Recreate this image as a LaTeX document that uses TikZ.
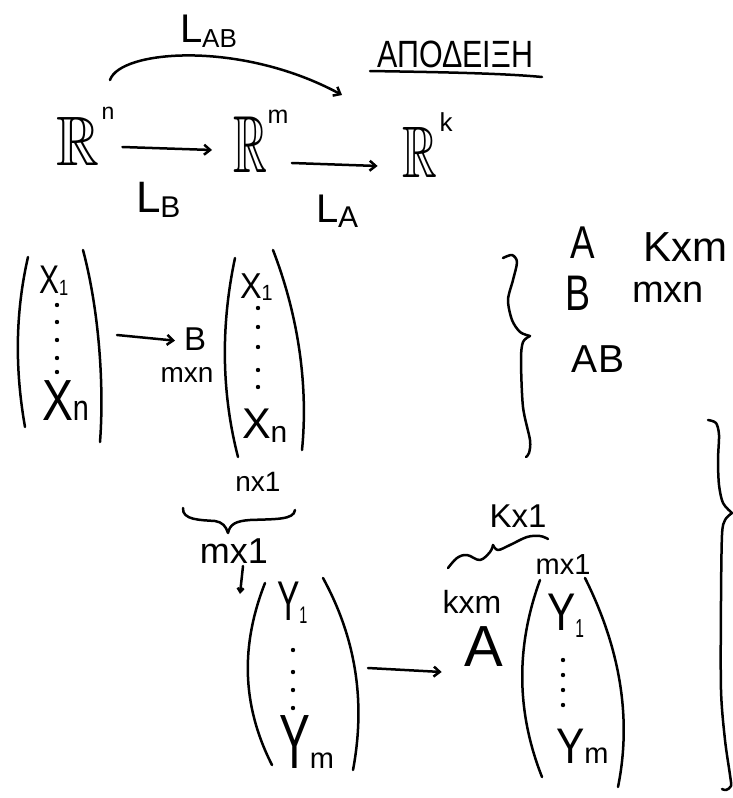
\documentclass[tikz,border=0pt]{standalone}
\usepackage{fontspec}
\usepackage{amssymb}
\setmainfont{Liberation Sans}
\usetikzlibrary{arrows.meta}
\newcommand\fsz[2]{{\fontsize{#1}{#1}\selectfont #2}}
\begin{document}
\begin{tikzpicture}[x=1pt,y=-1pt, line width=2.5pt, line cap=round, line join=round,
  every node/.style={inner sep=0pt, outer sep=0pt},
  arr/.style={-{Straight Barb[length=6pt,width=10pt]}},
  sarr/.style={-{Straight Barb[length=4pt,width=6pt]}}]
\fill[white] (0,0) rectangle (732,798);
\useasboundingbox (0,0) rectangle (732,798);

% ---------- top diagram ----------
\node[anchor=base west] (lab) at (180,42) {\fsz{40}{L}\raisebox{-5pt}{\fsz{26}{AB}}};
\node[anchor=base west] (title) at (377,67) {\scalebox{0.8}[1]{\fsz{38}{ΑΠΟΔΕΙΞΗ}}};
\coordinate (ulL) at (370,71);
\coordinate (ulR) at (542,77);
\draw (ulL) .. controls (430,72) and (500,73) .. (ulR);

\node (Rn) at (78,141) {\scalebox{0.85}[1]{\fsz{70}{$\mathbb{R}$}}};
\node (sn) at (108,113) {\fsz{23}{n}};
\node (Rm) at (250,145) {\scalebox{0.58}[1]{\fsz{81}{$\mathbb{R}$}}};
\node (sm) at (278,117) {\fsz{25}{m}};
\node (Rk) at (420,152) {\scalebox{0.66}[1]{\fsz{73}{$\mathbb{R}$}}};
\node (sk) at (446,122) {\fsz{26}{k}};

\draw[arr] ([xshift=23pt,yshift=-6pt]Rn.east) -- ([xshift=-21pt,yshift=-5pt]Rm.west);
\draw[arr] ([xshift=25pt,yshift=-18pt]Rm.east) -- ([xshift=-25pt,yshift=-14pt]Rk.west);

\node[anchor=base west] (lb) at (136,212) {\fsz{44}{L}\raisebox{-5pt}{\fsz{30}{B}}};
\node[anchor=base west] (la) at (316,222) {\fsz{40}{L}\raisebox{-5pt}{\fsz{30}{A}}};

\coordinate (abS) at (110,80);
\coordinate (abE) at (342,95);
\draw[arr] (abS) .. controls (120,50) and (240,40) .. (abE);

% ---------- vector 1 ----------
\draw (28,257) .. controls (15,314) and (15,370) .. (25,427);
\draw (83,250) .. controls (100,314) and (104,390) .. (100,442);
\node[anchor=base west] (x1a) at (39,293) {\scalebox{0.75}[1]{\fsz{40}{X}\raisebox{-2pt}{\fsz{22}{1}}}};
\foreach \y in {305,322,340,358,372} \fill (57,\y) circle (2.2pt);
\node[anchor=base west] (xna) at (42,420) {\scalebox{0.8}[1]{\fsz{58}{X}\fsz{36}{n}}};

\node[anchor=base west] (Bm) at (184,350) {\fsz{33}{B}};
\node (mxnB) at (187,375) {\fsz{28}{mxn}};
\coordinate (v1r) at (117,335);
\draw[arr] (v1r) -- ([xshift=-9pt,yshift=-2pt]Bm.west);

% ---------- vector 2 ----------
\draw (235,258) .. controls (221,324) and (221,391) .. (238,457);
\draw (273,250) .. controls (300,320) and (308,390) .. (302,450);
\node[anchor=base west] (x1b) at (240,298) {\scalebox{0.9}[1]{\fsz{36}{X}\raisebox{-2pt}{\fsz{22}{1}}}};
\foreach \y in {308,327,347,370,387} \fill (258,\y) circle (2.2pt);
\node[anchor=base west] (xnb) at (242,438) {\fsz{43}{X}\raisebox{-4pt}{\fsz{30}{n}}};
\node (nx1) at (258,482) {\fsz{28}{nx1}};

\draw (183,508) .. controls (182,520) and (200,520) .. (215,521)
  .. controls (222,522) and (226,526) .. (228,533)
  .. controls (230,524) and (236,521) .. (250,520)
  .. controls (275,519) and (294,520) .. (295,510);
\node (mx1a) at (234,551) {\fsz{36}{mx1}};
\coordinate (smS) at (243,566);
\coordinate (smE) at (240,594);
\draw[sarr] (smS) -- (smE);

% ---------- vector 3 ----------
\draw (265,583) .. controls (241,644) and (241,704) .. (272,765);
\draw (323,578) .. controls (358,642) and (365,706) .. (353,770);
\node[anchor=base west] (y1c) at (277,620) {\scalebox{0.6}[1]{\fsz{56}{Y}}\raisebox{-3pt}{\scalebox{0.6}[1]{\fsz{24}{1}}}};
\foreach \y in {650,672,690,708} \fill (293,\y) circle (2.2pt);
\node[anchor=base west] (ymc) at (279,768) {\scalebox{0.6}[1]{\fsz{77}{Y}}\fsz{29}{m}};

\node (kxmA) at (472,602) {\fsz{32}{kxm}};
\node (Abig) at (484,647) {\fsz{58}{A}};
\coordinate (v3r) at (368,668);
\draw[arr] (v3r) -- ([xshift=-23pt,yshift=-25pt]Abig.west);

\draw plot[smooth, tension=0.6] coordinates {(448,568) (457,558) (467,555) (480,560) (490,552) (493,545)};
\draw plot[smooth, tension=0.6] coordinates {(493,545) (498,550) (510,545) (527,537) (540,536) (548,539)};
\node (kx1) at (518,516) {\fsz{33}{Kx1}};
\node (mx1b) at (563,565) {\fsz{29}{mx1}};

% ---------- vector 4 ----------
\draw (540,580) .. controls (516,646) and (516,711) .. (542,777);
\draw (585,578) .. controls (620,648) and (632,718) .. (618,787);
\node[anchor=base west] (y1d) at (547,630) {\scalebox{0.8}[1]{\fsz{53}{Y}}\raisebox{-7pt}{\scalebox{0.6}[1]{\fsz{26}{1}}}};
\foreach \y in {660,675,690,705} \fill (563,\y) circle (2.2pt);
\node[anchor=base west] (ymd) at (556,763) {\scalebox{0.85}[1]{\fsz{50}{Y}}\fsz{29}{m}};

% ---------- right side ----------
\node (Ar) at (583,243) {\scalebox{0.8}[1]{\fsz{46}{A}}};
\node (kxmr) at (685,247) {\fsz{42}{Kxm}};
\node (Br) at (578,293) {\scalebox{0.75}[1]{\fsz{50}{B}}};
\node (mxnr) at (668,292) {\fsz{38}{mxn}};
\node (ABr) at (598,359) {\fsz{39}{AB}};

\draw plot[smooth] coordinates {(503,258) (512,255) (517,262) (513,280) (508,300) (512,320) (520,332) (530,336)};
\draw plot[smooth] coordinates {(530,336) (523,342) (521,360) (523,407) (530,440) (529,453) (526,457)};

\draw plot[smooth] coordinates {(708,420) (716,423) (719,435) (718,460) (719,485) (723,503) (732,513)};
\draw plot[smooth] coordinates {(732,513) (725,520) (722,535) (721,600) (721,690) (725,740) (730,775) (731,786) (726,790) (722,789)};
\end{tikzpicture}
\end{document}
